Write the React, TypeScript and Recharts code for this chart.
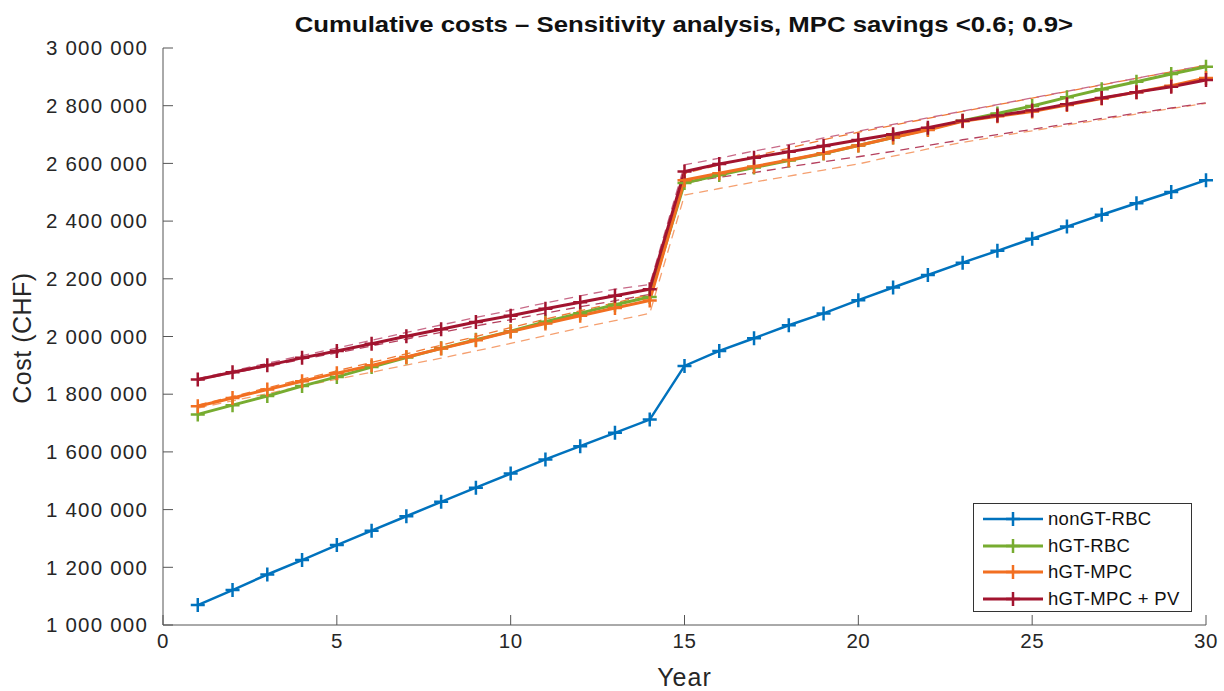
import { LineChart, Line, XAxis, YAxis } from 'recharts'

// values (CHF, cumulative per year)
const years = [1, 2, 3, 4, 5, 6, 7, 8, 9, 10, 11, 12, 13, 14, 15, 16, 17, 18, 19, 20, 21, 22, 23, 24, 25, 26, 27, 28, 29, 30]

const nonGtRbc = [
  1069000, 1121000, 1175000, 1225000, 1277000, 1327000, 1377000, 1427000, 1476000, 1525000,
  1574000, 1620000, 1666000, 1712000, 1898000, 1950000, 1994000, 2039000, 2080000, 2126000,
  2170000, 2213000, 2256000, 2297000, 2339000, 2381000, 2422000, 2462000, 2501000, 2542000,
]
const hgtRbc = [
  1730000, 1762000, 1794000, 1828000, 1860000, 1894000, 1927000, 1959000, 1989000, 2018000,
  2051000, 2081000, 2110000, 2137000, 2532000, 2560000, 2586000, 2610000, 2634000, 2662000,
  2690000, 2718000, 2748000, 2773000, 2799000, 2829000, 2857000, 2883000, 2910000, 2935000,
]
const hgtMpc = [
  1758000, 1787000, 1816000, 1845000, 1873000, 1900000, 1929000, 1958000, 1987000, 2017000,
  2045000, 2072000, 2099000, 2125000, 2542000, 2566000, 2589000, 2612000, 2635000, 2662000,
  2690000, 2716000, 2746000, 2763000, 2780000, 2802000, 2825000, 2847000, 2869000, 2896000,
]
const hgtMpcPv = [
  1851000, 1876000, 1900000, 1926000, 1950000, 1975000, 2001000, 2025000, 2050000, 2072000,
  2096000, 2119000, 2141000, 2164000, 2572000, 2598000, 2620000, 2640000, 2660000, 2681000,
  2701000, 2724000, 2748000, 2766000, 2783000, 2805000, 2827000, 2847000, 2866000, 2889000,
]

// sensitivity bounds (MPC savings 0.6 / 0.9)
const mpcHigh = [
  1762000, 1792000, 1822000, 1852000, 1881000, 1910000, 1940000, 1970000, 2000000, 2031000,
  2060000, 2089000, 2117000, 2145000, 2565000, 2595000, 2625000, 2653000, 2682000, 2708000,
  2732000, 2756000, 2780000, 2803000, 2826000, 2849000, 2872000, 2895000, 2917000, 2940000,
]
const mpcLow = [
  1752000, 1777000, 1802000, 1828000, 1852000, 1876000, 1901000, 1925000, 1950000, 1976000,
  2003000, 2030000, 2055000, 2080000, 2490000, 2513000, 2535000, 2556000, 2577000, 2598000,
  2625000, 2650000, 2673000, 2693000, 2713000, 2733000, 2752000, 2771000, 2790000, 2808000,
]
const pvHigh = [
  1854000, 1881000, 1907000, 1934000, 1960000, 1987000, 2014000, 2040000, 2066000, 2091000,
  2116000, 2141000, 2164000, 2180000, 2595000, 2618000, 2643000, 2665000, 2688000, 2712000,
  2735000, 2758000, 2781000, 2804000, 2827000, 2850000, 2873000, 2895000, 2918000, 2941000,
]
const pvLow = [
  1849000, 1873000, 1896000, 1921000, 1943000, 1967000, 1991000, 2014000, 2037000, 2058000,
  2081000, 2103000, 2124000, 2146000, 2532000, 2552000, 2568000, 2588000, 2606000, 2623000,
  2642000, 2662000, 2682000, 2700000, 2718000, 2737000, 2756000, 2774000, 2792000, 2810000,
]

const xTicks = [0, 5, 10, 15, 20, 25, 30]
const yTicks = [1000000, 1200000, 1400000, 1600000, 1800000, 2000000, 2200000, 2400000, 2600000, 2800000, 3000000]

const series = [
  { key: 'nonGtRbc', name: 'nonGT-RBC', color: '#0072BD', width: 2.5 },
  { key: 'hgtRbc', name: 'hGT-RBC', color: '#77AC30', width: 3 },
  { key: 'hgtMpc', name: 'hGT-MPC', color: '#F26F21', width: 3 },
  { key: 'hgtMpcPv', name: 'hGT-MPC + PV', color: '#A2142F', width: 3 },
]

const bounds = [
  { key: 'mpcLow', color: '#F5A070' },
  { key: 'pvLow', color: '#B5405E' },
  { key: 'mpcHigh', color: '#F07A35' },
  { key: 'pvHigh', color: '#C86A88' },
]

const data = years.map((year, i) => ({
  year,
  nonGtRbc: nonGtRbc[i],
  hgtRbc: hgtRbc[i],
  hgtMpc: hgtMpc[i],
  hgtMpcPv: hgtMpcPv[i],
  mpcHigh: mpcHigh[i],
  mpcLow: mpcLow[i],
  pvHigh: pvHigh[i],
  pvLow: pvLow[i],
}))

const FONT = '"Liberation Sans", Arial, Helvetica, sans-serif'

const fmt = (v: number) => String(v).replace(/\B(?=(\d{3})+(?!\d))/g, ' ')

function plusDot(color: string) {
  return (props: any) => {
    const { cx, cy, index } = props
    if (cx == null || cy == null) return <g key={index} />
    return (
      <path
        key={index}
        d={`M${cx - 7},${cy}h14M${cx},${cy - 7}v14`}
        stroke={color}
        strokeWidth={2.5}
        fill="none"
      />
    )
  }
}

function LegendBox() {
  return (
    <div
      style={{
        position: 'absolute',
        left: 973,
        top: 503,
        width: 219,
        height: 109,
        border: '1px solid #333',
        background: '#fff',
        fontFamily: FONT,
        fontSize: 18.5,
        color: '#111',
        boxSizing: 'border-box',
        paddingTop: 2,
      }}
    >
      {series.map((s) => (
        <div key={s.key} style={{ display: 'flex', alignItems: 'center', height: 26.5 }}>
          <svg width={70} height={20} style={{ marginLeft: 6 }}>
            <line x1={3} y1={10} x2={63} y2={10} stroke={s.color} strokeWidth={s.width} />
            <path d="M26,10h14M33,3v14" stroke={s.color} strokeWidth={2.5} />
          </svg>
          <span style={{ marginLeft: -2, letterSpacing: 0.3 }}>{s.name}</span>
        </div>
      ))}
    </div>
  )
}

export default function App() {
  return (
    <div style={{ position: 'absolute', left: 0, top: 0, width: 1224, height: 691, background: '#fff' }}>
      <div
        style={{
          position: 'absolute',
          left: 163,
          width: 1043,
          top: 12,
          textAlign: 'center',
          fontFamily: FONT,
          fontWeight: 'bold',
          fontSize: 22,
          color: '#111',
          transform: 'scaleX(1.17)',
          transformOrigin: '525px 0',
        }}
      >
        Cumulative costs – Sensitivity analysis, MPC savings &lt;0.6; 0.9&gt;
      </div>
      <LineChart width={1224} height={691} data={data} margin={{ top: 48, right: 18, bottom: 0, left: 0 }}>
        <XAxis
          dataKey="year"
          type="number"
          domain={[0, 30]}
          ticks={xTicks}
          height={66}
          tickSize={-10}
          tickMargin={18}
          stroke="#555"
          tick={{ fill: '#262626', fontSize: 20.5, fontFamily: FONT, letterSpacing: 0.5 }}
        />
        <YAxis
          type="number"
          domain={[1000000, 3000000]}
          ticks={yTicks}
          width={163}
          tickSize={-10}
          tickMargin={25}
          stroke="#555"
          tickFormatter={fmt}
          tick={{ fill: '#262626', fontSize: 20.5, fontFamily: FONT, letterSpacing: 1.2 }}
        />
        {bounds.map((b) => (
          <Line
            key={b.key}
            dataKey={b.key}
            stroke={b.color}
            strokeWidth={1.3}
            strokeDasharray="9 6"
            dot={false}
            activeDot={false}
            type="linear"
            isAnimationActive={false}
          />
        ))}
        {series.map((s) => (
          <Line
            key={s.key}
            dataKey={s.key}
            name={s.name}
            stroke={s.color}
            strokeWidth={s.width}
            dot={plusDot(s.color)}
            activeDot={false}
            type="linear"
            isAnimationActive={false}
          />
        ))}
      </LineChart>
      <div
        style={{
          position: 'absolute',
          left: 163,
          width: 1043,
          top: 663,
          textAlign: 'center',
          fontFamily: FONT,
          fontSize: 25,
          letterSpacing: 1,
          color: '#262626',
        }}
      >
        Year
      </div>
      <div
        style={{
          position: 'absolute',
          left: 22,
          top: 338,
          transform: 'translate(-50%, -50%) rotate(-90deg)',
          fontFamily: FONT,
          fontSize: 25,
          letterSpacing: 0.5,
          color: '#262626',
          whiteSpace: 'nowrap',
        }}
      >
        Cost (CHF)
      </div>
      <LegendBox />
    </div>
  )
}
